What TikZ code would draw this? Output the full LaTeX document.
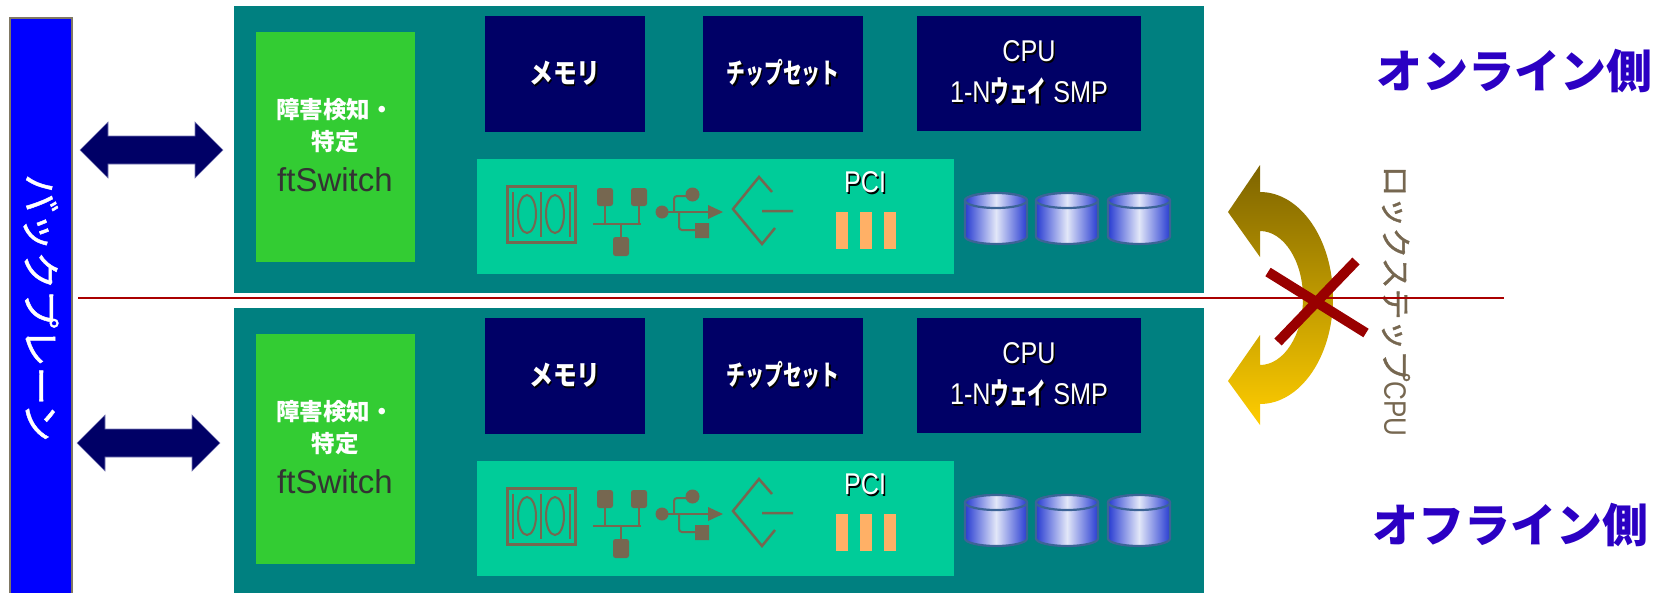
\documentclass[tikz,border=0pt]{standalone}
\usepackage{fontspec}
\usepackage{graphicx}
\setmainfont{Liberation Sans}
\newfontfamily\jp{Noto Sans CJK JP}
\newfontfamily\jpmed[FakeBold=1.2]{Noto Sans CJK JP}
\newfontfamily\narrow[FakeStretch=0.84]{Liberation Sans}
\newcommand\fsz[1]{\fontsize{#1pt}{#1pt}\selectfont}
% white label with a small dark drop shadow
\newcommand\shadowed[1]{\leavevmode\rlap{\kern1.5pt\raisebox{-1.5pt}{\color{black}#1}}#1}

\definecolor{teal0}{RGB}{0,128,128}
\definecolor{navy0}{RGB}{0,0,102}
\definecolor{green0}{RGB}{51,204,51}
\definecolor{panel0}{RGB}{0,204,153}
\definecolor{orange0}{RGB}{255,176,102}
\definecolor{icon0}{RGB}{118,103,80}
\definecolor{plane0}{RGB}{0,0,255}
\definecolor{planeedge}{RGB}{128,120,100}
\definecolor{side0}{RGB}{43,0,195}
\definecolor{ft0}{RGB}{51,51,51}
\definecolor{xred}{RGB}{153,0,0}
\definecolor{linered}{RGB}{170,0,0}
\definecolor{diskblue}{RGB}{40,60,210}
\definecolor{diskhi}{RGB}{226,231,248}
\definecolor{diskedge}{RGB}{60,100,150}
\definecolor{arrowedge}{RGB}{120,120,180}
\definecolor{swapdark}{RGB}{125,100,0}
\definecolor{swaplight}{RGB}{255,205,0}

\begin{document}
\begin{tikzpicture}[x=1pt,y=1pt,
  box/.style={anchor=north west, inner sep=0pt, outer sep=0pt, draw=none},
  board/.style={box, fill=teal0, minimum width=970pt, minimum height=287pt},
  switchbox/.style={box, fill=green0, minimum width=159pt, minimum height=230pt},
  chipbox/.style={box, fill=navy0, minimum width=160pt, minimum height=116pt,
    text=white, font=\jp\bfseries\fsz{28}},
  cpubox/.style={box, fill=navy0, minimum width=224pt, minimum height=115pt,
    text=white, align=center, font=\narrow\fontsize{30pt}{41pt}\selectfont},
  pcipanel/.style={box, fill=panel0, minimum width=477pt, minimum height=115pt},
  slot/.style={box, fill=orange0, minimum width=12pt, minimum height=37pt},
  swtext/.style={inner sep=0pt, text=white, font=\jp\bfseries\fsz{23.5}},
  ftlabel/.style={inner sep=0pt, text=ft0, font=\fsz{33}},
  pcilabel/.style={inner sep=0pt, text=white, font=\narrow\fsz{30}},
  sidelabel/.style={inner sep=0pt, text=side0, font=\jp\bfseries\fsz{46}},
  icon/.style={draw=icon0, line width=2pt},
  blockarrow/.style={fill=navy0, draw=arrowedge, line width=0.6pt},
  diskbody/.style={left color=diskblue, right color=diskblue, middle color=diskhi,
    draw=diskedge, line width=2.2pt},
  disk/.pic={
    \path[diskbody] (-31,18) -- (-31,-18)
      arc[start angle=180, end angle=360, x radius=31pt, y radius=7.5pt]
      -- (31,18) arc[start angle=0, end angle=180, x radius=31pt, y radius=7.5pt] -- cycle;
    \path[diskbody] (0,18) ellipse[x radius=31pt, y radius=7.5pt];
  },
  serverboard/.pic={
    \node[board] (-board) at (234,-6) {};
    % fault detection module
    \node[switchbox] (-ft) at (256,-32) {};
    \node[swtext] (-ftja1) at (335,-110) {障害検知・};
    \node[swtext] (-ftja2) at (335,-142) {特定};
    \node[ftlabel] (-ftsw) at (335,-180) {ftSwitch};
    % memory, chipset, processors
    \node[chipbox] (-mem) at (485,-16) {\shadowed{\scalebox{0.85}[1]{メモリ}}};
    \node[chipbox] (-chip) at (703,-16) {\shadowed{\scalebox{0.67}[1]{チップセット}}};
    \node[cpubox] (-cpu) at (917,-16)
      {\shadowed{CPU}\\
       \shadowed{1-N\scalebox{0.62}[1]{\jp\bfseries ウェイ} SMP}};
    % I/O panel
    \node[pcipanel] (-pci) at (477,-159) {};
    \node[pcilabel] (-pcitxt) at (865,-183) {\shadowed{PCI}};
    \foreach \sx in {836,860,884}
      \node[slot] (-slot\sx) at (\sx,-212) {};
    % media rack icon
    \draw[icon, line width=3pt] (507,-186) rectangle (575,-242);
    \draw[icon] (513,-192) -- (513,-237) (541,-192) -- (541,-237) (570,-192) -- (570,-237);
    \draw[icon] (527,-214) ellipse[x radius=9pt, y radius=19pt]
                (555,-214) ellipse[x radius=9pt, y radius=19pt];
    % network icon
    \fill[icon0, rounded corners=2.5pt] (597,-188) rectangle (613,-206)
      (631,-188) rectangle (647,-206) (613,-237) rectangle (629,-256);
    \draw[icon] (605,-206) -- (605,-224) (639,-206) -- (639,-224)
      (593,-224) -- (641,-224) (621,-224) -- (621,-237);
    % USB icon
    \fill[icon0] (662,-212) circle[radius=6.5pt] (692.5,-194.5) circle[radius=7pt]
      (695,-223) rectangle (709,-238) (708,-205) -- (723,-212) -- (708,-219) -- cycle;
    \draw[icon] (662,-212) -- (708,-212);
    \draw[icon, rounded corners=3pt] (674,-212) -- (674,-196) -- (688,-196);
    \draw[icon, rounded corners=3pt] (679,-212) -- (679,-230) -- (696,-230);
    % share icon
    \draw[icon, line width=2.5pt] (772,-192) -- (759,-177) -- (733,-209) -- (762,-244) -- (775,-228)
      (762,-211) -- (793,-211);
    % disks
    \pic at (996,-218.5) {disk};
    \pic at (1067,-218.5) {disk};
    \pic at (1139,-218.5) {disk};
  }
]
\useasboundingbox (0,0) rectangle (1663,-592);
\clip (0,0) rectangle (1663,-592);

% backplane
\node[box, fill=plane0, draw=planeedge, line width=1.5pt,
      minimum width=62pt, minimum height=600pt] (plane) at (10,-18) {};
\node[rotate=-90, inner sep=0pt, text=white, font=\jpmed\fsz{38.5}] (planetxt) at (41,-308) {バックプレーン};

% online and offline boards
\pic (on) at (0,0) {serverboard};
\pic (off) at (0,-302) {serverboard};

% links between backplane and boards
\coordinate (lnk1) at (80,-150);
\coordinate (lnk2) at (77,-443);
\foreach \c in {lnk1,lnk2}
  \draw[blockarrow] (\c) -- ++(28,28) -- ++(0,-14) -- ++(87,0) -- ++(0,14) -- ++(28,-28)
    -- ++(-28,-28) -- ++(0,14) -- ++(-87,0) -- ++(0,-14) -- cycle;

% side labels
\node[sidelabel] (online) at (1514,-71) {オンライン側};
\node[sidelabel] (offline) at (1510,-525) {オフライン側};

% lockstep swap arrow
\path[top color=swapdark, bottom color=swaplight]
  (1228,-212) -- (1260,-165) -- (1260,-192)
  arc[start angle=90, end angle=-90, x radius=73pt, y radius=106pt]
  -- (1260,-425) -- (1228,-381) -- (1260,-335) -- (1260,-365)
  arc[start angle=-90, end angle=90, x radius=43pt, y radius=67pt]
  -- (1260,-257) -- cycle;
\node[rotate=-90, inner sep=0pt, text=icon0, font=\jpmed\fsz{31}] (lockstep) at (1396,-301)
  {ロックステップ{\narrow CPU}};

% separation line
\coordinate (sepl) at (78,-298);
\coordinate (sepr) at (1504,-298);
\draw[linered, line width=2pt] (sepl) -- (sepr);

% cross over the swap arrow
\draw[xred, line width=10pt] (1268,-272) -- (1366,-333) (1356,-261) -- (1278,-342);
\end{tikzpicture}
\end{document}
